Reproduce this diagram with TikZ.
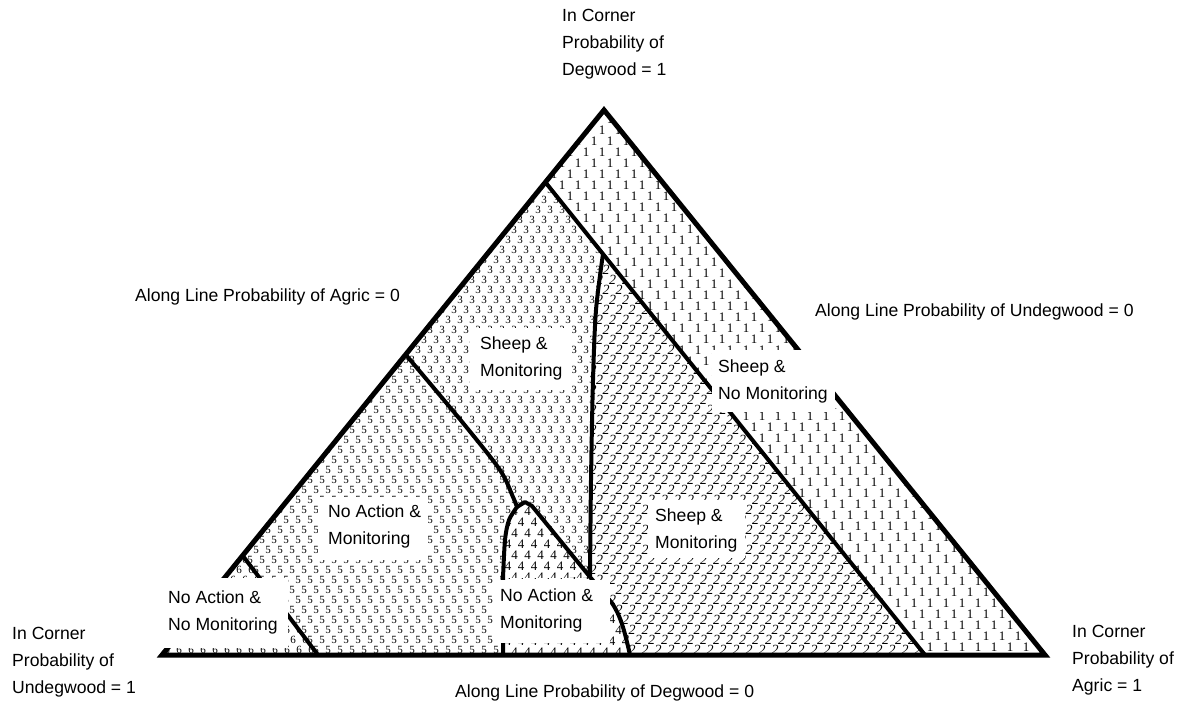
\documentclass[tikz,border=0pt]{standalone}
\usepackage{fontspec}
\setmainfont{Liberation Sans}
\newfontfamily\digserif{Liberation Serif}
% tiled glyph fill: #1 glyph, #2 x0, #3 x1, #4 y0, #5 y1, #6 dx, #7 dy, #8 font
\newcommand\tilefill[8]{%
  \pgfmathtruncatemacro\tfncols{(#3-#2)/#6+1}%
  \pgfmathtruncatemacro\tfnrows{(#5-#4)/#7+1}%
  \foreach \i in {0,...,\tfnrows}{%
    \foreach \j in {0,...,\tfncols}{%
      \pgfmathsetmacro\xx{#2+\j*#6+mod(\i,2)*#6/2}%
      \pgfmathsetmacro\yy{#4+\i*#7}%
      \pgftext[at={\pgfpoint{\xx pt}{-\yy pt}}]{#8#1}%
    }%
  }%
}
\begin{document}
\begin{tikzpicture}[x=1pt,y=-1pt,
  edge/.style={line width=5pt,line join=miter},
  inner/.style={line width=4pt,line join=round},
  lbl/.style={font=\fontsize{17.6}{27}\selectfont,align=left,inner sep=0pt,anchor=west},
  box/.style={fill=white}]
\useasboundingbox[fill=white] (0,0) rectangle (1181,707);

\coordinate (A) at (604,110);
\coordinate (L) at (162,655);
\coordinate (R) at (1045,655);
\coordinate (P1) at (546,183);
\coordinate (Q1) at (925,655);
\coordinate (V0) at (603,254);
\coordinate (V1) at (590,577);
\coordinate (P2) at (406,355);
\coordinate (K) at (517,507);
\coordinate (T) at (525,502);
\coordinate (T2) at (532,506);
\coordinate (B4) at (503,578);
\coordinate (B5) at (503,655);
\coordinate (C1) at (612,603);
\coordinate (C2) at (630,655);
\coordinate (E1) at (243,556);
\coordinate (E2) at (318,655);

% region 1
\begin{scope}
\clip (A) -- (R) -- (Q1) -- (P1) -- cycle;
\tilefill{1}{538}{1050}{108}{660}{16}{11}{\digserif\fontsize{13}{13}\selectfont}
\end{scope}
% region 2
\begin{scope}
\clip (V0) -- (Q1) -- (C2) .. controls (624,628) and (620,615) .. (C1) -- (V1)
  -- plot[smooth] coordinates {(590,577) (591,480) (593,380) (596,310) (603,254)} -- cycle;
\tilefill{\itshape 2}{580}{930}{250}{660}{13}{10}{\digserif\fontsize{14}{14}\selectfont}
\end{scope}
% region 3
\begin{scope}
\clip (P1) -- (V0) -- plot[smooth] coordinates {(603,254) (596,310) (593,380) (591,480) (590,577)}
  -- (T2) -- (T) -- (K) -- plot[smooth] coordinates {(517,507) (513,497) (500,470) (463,423) (406,355)} -- cycle;
\tilefill{3}{400}{610}{180}{580}{12}{10}{\digserif\fontsize{11}{11}\selectfont}
\end{scope}
% region 4
\begin{scope}
\clip (B4) -- plot[smooth] coordinates {(503,578) (505,540) (509,520) (517,507)} -- (T) -- (T2) -- (V1) -- cycle;
\tilefill{4}{495}{600}{500}{585}{13}{11}{\digserif\fontsize{13}{13}\selectfont}
\end{scope}
\begin{scope}
\clip (B4) -- (V1) -- (C1) .. controls (620,615) and (624,628) .. (C2) -- (B5) -- cycle;
\tilefill{4}{495}{640}{575}{660}{13}{11}{\digserif\fontsize{13}{13}\selectfont}
\end{scope}
% region 5
\begin{scope}
\clip (P2) -- plot[smooth] coordinates {(406,355) (463,423) (500,470) (513,497) (517,507)}
  -- plot[smooth] coordinates {(517,507) (509,520) (505,540) (503,578)} -- (B5) -- (E2) -- (E1) -- cycle;
\tilefill{5}{220}{525}{350}{660}{12}{10}{\digserif\fontsize{11}{11}\selectfont}
\end{scope}
% region 6
\begin{scope}
\clip (L) -- (E1) -- (E2) -- cycle;
\tilefill{6}{155}{320}{550}{660}{12}{10}{\digserif\fontsize{11}{11}\selectfont}
\end{scope}

% boundaries
\draw[inner] (P1) -- (Q1);
\draw[inner] (V0) -- plot[smooth] coordinates {(603,254) (596,310) (593,380) (591,480) (590,577)}
  -- (C1) .. controls (620,615) and (624,628) .. (C2);
\draw[inner] (P2) -- plot[smooth] coordinates {(406,355) (463,423) (500,470) (513,497) (517,507)}
  -- (T) -- (T2) -- (V1);
\draw[inner] (K) -- plot[smooth] coordinates {(517,507) (509,520) (505,540) (503,578)} -- (B5);
\draw[inner] (E1) -- (E2);
\draw[edge] (A) -- (R) -- (L) -- cycle;

% label boxes
\fill[box] (470,328) rectangle (572,390);
\node[lbl] (sm1) at (480,358.5) {Sheep \&\\Monitoring};
\fill[box] (712,350) rectangle (835,412);
\node[lbl] (snm) at (718,381.5) {Sheep \&\\No Monitoring};
\fill[box] (318,497) rectangle (428,560);
\node[lbl] (nam1) at (328,526.5) {No Action \&\\Monitoring};
\fill[box] (648,500) rectangle (745,558);
\node[lbl] (sm2) at (655,530) {Sheep \&\\Monitoring};
\fill[box] (158,578) rectangle (288,648);
\node[lbl] (nanm) at (168,612.5) {No Action \&\\No Monitoring};
\fill[box] (493,580) rectangle (610,643);
\node[lbl] (nam2) at (500,610) {No Action \&\\Monitoring};

% outer labels
\node[lbl] (ctop) at (562,44) {In Corner\\Probability of\\Degwood = 1};
\node[lbl] (cleft) at (12,662) {In Corner\\Probability of\\Undegwood = 1};
\node[lbl] (cright) at (1072,660) {In Corner\\Probability of\\Agric = 1};
\node[lbl] (lagric) at (135,297) {Along Line Probability of Agric = 0};
\node[lbl] (lundeg) at (815,312) {Along Line Probability of Undegwood = 0};
\node[lbl] (ldeg) at (455,693) {Along Line Probability of Degwood = 0};
\end{tikzpicture}
\end{document}
